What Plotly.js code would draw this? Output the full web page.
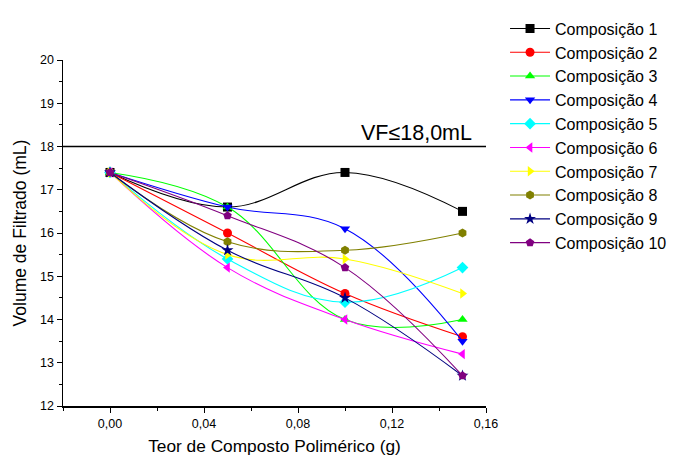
<!DOCTYPE html>
<html><head><meta charset="utf-8">
<script src="https://cdn.plot.ly/plotly-3.0.1.min.js"></script>
<style>html,body{margin:0;padding:0;background:#fff}</style>
</head><body>
<div id="chart" style="width:683px;height:456px"></div>
<script>
const xVals = [0.00, 0.05, 0.10, 0.15];
const names = ["Composição 1","Composição 2","Composição 3","Composição 4","Composição 5","Composição 6","Composição 7","Composição 8","Composição 9","Composição 10"];
const c1 = [17.4, 16.6, 17.4, 16.5];
const c2 = [17.4, 16.0, 14.6, 13.6];
const c3 = [17.4, 16.6, 14.0, 14.0];
const c4 = [17.4, 16.6, 16.1, 13.5];
const c5 = [17.4, 15.4, 14.4, 15.2];
const c6 = [17.4, 15.2, 14.0, 13.2];
const c7 = [17.4, 15.5, 15.4, 14.6];
const c8 = [17.4, 15.8, 15.6, 16.0];
const c9 = [17.4, 15.6, 14.5, 12.7];
const c10 = [17.4, 16.4, 15.2, 12.7];
const series = [c1,c2,c3,c4,c5,c6,c7,c8,c9,c10];
const colors = ["#000000","#ff0000","#00ff00","#0000ff","#00ffff","#ff00ff","#ffff00","#808000","#000080","#800080"];
const symbols = ["square","circle","triangle-up","triangle-down","diamond","triangle-left","triangle-right","hexagon","star","pentagon"];
const limitY = 18.0;
const limitLabel = "VF≤18,0mL";

const traces = series.map((ys,i)=>({
  x: xVals, y: ys, name: names[i], type:'scatter', mode:'lines+markers',
  line:{color:colors[i], width:1.1, shape:'spline', smoothing:1.1},
  marker:{color:colors[i], symbol:symbols[i], size:9}
}));

const font = "Liberation Sans, Arial, sans-serif";
const layout = {
  width:683, height:456,
  margin:{l:63, r:197, t:60, b:50, autoexpand:false},
  paper_bgcolor:'#fff', plot_bgcolor:'#fff',
  separators: ',.',
  font:{family:font, color:'#000'},
  showlegend:true,
  legend:{x:1.045, y:1.14, xanchor:'left', yanchor:'top', font:{size:16, family:font}, tracegroupgap:0, itemwidth:40, maxheight:440, bgcolor:'rgba(0,0,0,0)'},
  xaxis:{range:[-0.02,0.16], tickvals:[0,0.04,0.08,0.12,0.16], tickformat:'.2f',
    showgrid:false, zeroline:false, showline:true, linecolor:'#000', linewidth:1.5,
    ticks:'outside', ticklen:5, tickwidth:1, tickcolor:'#000', tickfont:{size:12.5},
    minor:{dtick:0.02, tick0:0, ticks:'outside', ticklen:3, tickcolor:'#000', showgrid:false},
    title:{text:'Teor de Composto Polimérico (g)', font:{size:17.3}, standoff:17}},
  yaxis:{range:[12,20], dtick:1, tick0:12,
    showgrid:false, zeroline:false, showline:true, linecolor:'#000', linewidth:1.5,
    ticks:'outside', ticklen:5, tickwidth:1, tickcolor:'#000', tickfont:{size:12.5},
    minor:{dtick:0.5, ticks:'outside', ticklen:3, tickcolor:'#000', showgrid:false},
    title:{text:'Volume de Filtrado (mL)', font:{size:17.5}, standoff:9}},
  shapes:[{type:'line', xref:'paper', x0:0, x1:1, yref:'y', y0:limitY, y1:limitY, line:{color:'#000', width:1.5}}],
  annotations:[{x:0.1306, y:limitY, xref:'x', yref:'y', text:limitLabel, showarrow:false, yanchor:'bottom', yshift:0, font:{size:21.5, family:font}}]
};
Plotly.newPlot('chart', traces, layout, {displayModeBar:false, staticPlot:true});
</script>
</body></html>
